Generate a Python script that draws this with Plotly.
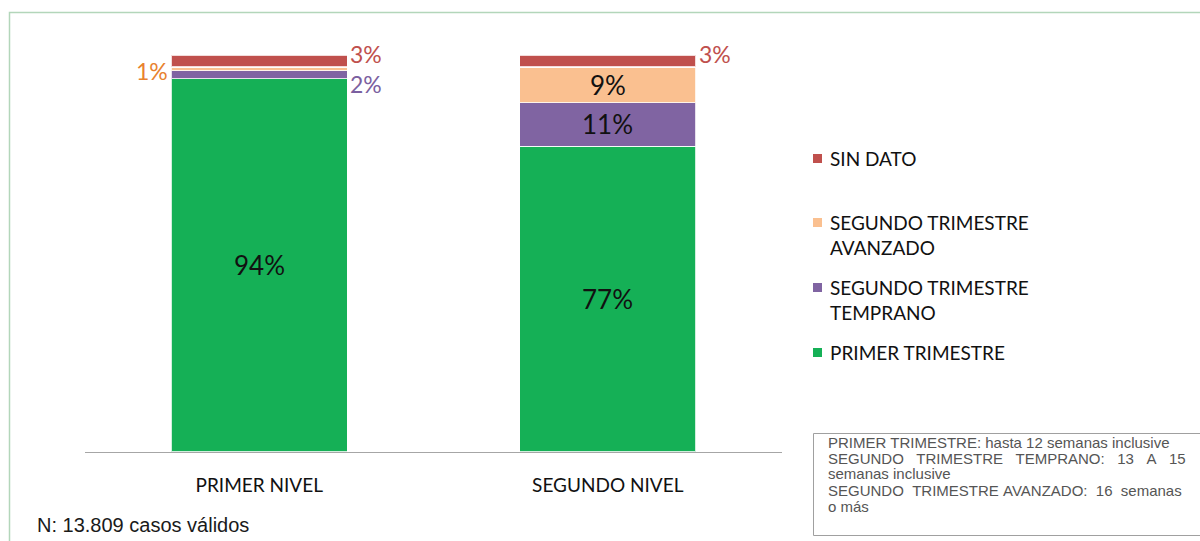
import plotly.graph_objects as go

# Distribución por trimestre de gestación según nivel de atención (%)
categorias = ["PRIMER NIVEL", "SEGUNDO NIVEL"]
series = ["PRIMER TRIMESTRE", "SEGUNDO TRIMESTRE TEMPRANO",
          "SEGUNDO TRIMESTRE AVANZADO", "SIN DATO"]
primer_trimestre = [94, 77]
segundo_temprano = [2, 11]
segundo_avanzado = [1, 9]
sin_dato = [3, 3]

valores = [primer_trimestre, segundo_temprano, segundo_avanzado, sin_dato]
colores = ["#15B056", "#8064A2", "#FAC090", "#C0504D"]
colores_texto = ["#111111", "#7B5FA0", "#E8822E", "#C0504D"]

FUENTE = "Lato, 'Open Sans', sans-serif"
ARIAL = "'Liberation Sans', Arial, sans-serif"

H, W = 541, 1200
L, R, T, B = 85, 418, 55, 89
pw, ph = W - L - R, H - T - B


def px_x(x):
    return (x - L) / pw


def px_y(y):
    return (H - B - y) / ph


fig = go.Figure()
for nombre, vals, col in zip(series, valores, colores):
    fig.add_trace(go.Bar(
        x=categorias, y=vals, name=nombre,
        marker=dict(color=col, line=dict(color="rgba(255,255,255,0.8)", width=1.2)),
        width=0.505, showlegend=False, hoverinfo="x+y+name",
    ))

# Etiquetas de valor: dentro del segmento si cabe, si no al costado
annotations = []
for ci, cat in enumerate(categorias):
    base = 0
    for si, vals in enumerate(valores):
        v = vals[ci]
        centro = base + v / 2
        base += v
        if v >= 5:
            annotations.append(dict(
                x=cat, y=centro, xref="x", yref="y", text=f"{v}%",
                showarrow=False, font=dict(family=FUENTE, size=26, color="#111111"),
            ))
        elif si == 2:  # segmento chico: etiqueta a la izquierda
            annotations.append(dict(
                x=cat, y=centro, xref="x", yref="y", text=f"{v}%",
                showarrow=False, xanchor="right", xshift=-89, yshift=-2,
                font=dict(family=FUENTE, size=23, color=colores_texto[si]),
            ))
        else:  # segmento chico: etiqueta a la derecha
            ys = 7 if si == 3 else -9
            annotations.append(dict(
                x=cat, y=centro, xref="x", yref="y", text=f"{v}%",
                showarrow=False, xanchor="left", xshift=89, yshift=ys,
                font=dict(family=FUENTE, size=23, color=colores_texto[si]),
            ))

# Leyenda (orden inverso al apilado)
leyenda = [
    ("SIN DATO", colores[3], 158),
    ("SEGUNDO TRIMESTRE<br>AVANZADO", colores[2], 222),
    ("SEGUNDO TRIMESTRE<br>TEMPRANO", colores[1], 287),
    ("PRIMER TRIMESTRE", colores[0], 352),
]
shapes = []
for texto, col, ypix in leyenda:
    shapes.append(dict(
        type="rect", xref="paper", yref="paper",
        x0=px_x(813), x1=px_x(822), y0=px_y(ypix + 5), y1=px_y(ypix - 4),
        fillcolor=col, line=dict(width=0),
    ))
    annotations.append(dict(
        x=px_x(828), y=px_y(ypix - 13), xref="paper", yref="paper",
        text=texto, showarrow=False, xanchor="left", yanchor="top", align="left",
        font=dict(family=FUENTE, size=19, color="#111111"),
    ))

# Marco exterior
shapes.append(dict(
    type="rect", xref="paper", yref="paper",
    x0=px_x(9.5), x1=px_x(1210), y0=px_y(560), y1=px_y(12.5),
    line=dict(color="#B3D6BA", width=1.5), fillcolor="rgba(0,0,0,0)", layer="below",
))
# Recuadro de definiciones
shapes.append(dict(
    type="rect", xref="paper", yref="paper",
    x0=px_x(813.5), x1=px_x(1210), y0=px_y(535.5), y1=px_y(433.5),
    line=dict(color="#A0A0A0", width=1), fillcolor="white",
))

nb = "&nbsp;"
notas = [
    ("PRIMER TRIMESTRE: hasta 12 semanas inclusive", 441),
    (f"SEGUNDO{nb*3}TRIMESTRE{nb*3}TEMPRANO:{nb*3}13{nb*3}A{nb*3}15", 457),
    ("semanas inclusive", 472),
    (f"SEGUNDO{nb*2}TRIMESTRE{nb}AVANZADO:{nb*2}16{nb*2}semanas", 489),
    ("o más", 505),
]
for texto, ypix in notas:
    annotations.append(dict(
        x=px_x(826), y=px_y(ypix - 9), xref="paper", yref="paper",
        text=texto, showarrow=False, xanchor="left", yanchor="top",
        font=dict(family=ARIAL, size=15, color="#555555"),
    ))

annotations.append(dict(
    x=px_x(35), y=px_y(512), xref="paper", yref="paper",
    text="N: 13.809 casos válidos", showarrow=False, xanchor="left", yanchor="top",
    font=dict(family=ARIAL, size=20, color="#1a1a1a"),
))

fig.update_layout(
    barmode="stack",
    width=W, height=H,
    margin=dict(l=L, r=R, t=T, b=B),
    paper_bgcolor="white", plot_bgcolor="white",
    xaxis=dict(
        showline=True, linecolor="#A6A6A6", linewidth=1.2,
        ticks="", tickfont=dict(family=FUENTE, size=19, color="#111111"),
        ticklabelstandoff=16,
        range=[-0.5, 1.5], fixedrange=True,
    ),
    yaxis=dict(
        range=[0, 100], visible=False, showgrid=False, fixedrange=True,
    ),
    shapes=shapes,
    annotations=annotations,
    font=dict(family=FUENTE),
)

fig.write_html("out.html")
